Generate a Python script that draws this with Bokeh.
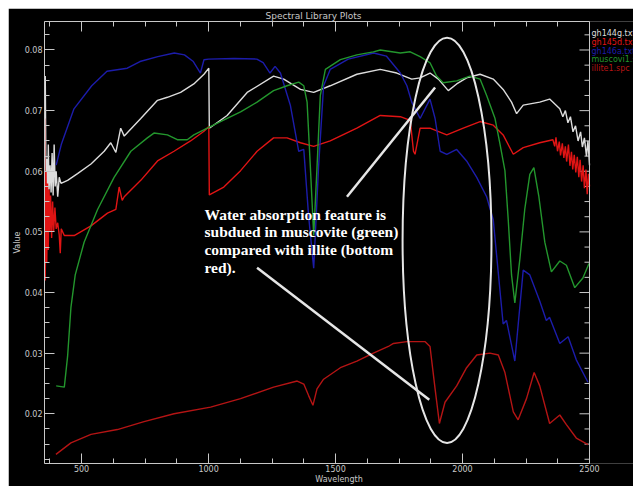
from bokeh.plotting import figure
from bokeh.models import Range1d, LinearAxis, Label, FixedTicker, CustomLabelingPolicy, Span, Spacer
from bokeh.layouts import row, column
from bokeh.core.properties import value
from bokeh.embed import file_html
from bokeh.resources import INLINE

# ---------------- data (wavelength nm, value) ----------------
gh144g_pts = [(357,0.0757),(360,0.058),(363,0.062),(366,0.0556),(369,0.0644),(372,0.057),(376,0.061),
              (380,0.0565),(384,0.063),(388,0.056),(392,0.0644),(396,0.0575),(400,0.060),(406,0.0558),
              (412,0.059),(419,0.058),(445,0.0585),(484,0.0596),(537,0.0612),(589,0.0633),(615,0.0647),
              (635,0.0631),(654,0.0671),(668,0.0658),(733,0.0687),(799,0.0717),(838,0.0722),(890,0.0730),
              (942,0.0744),(982,0.0760),(1001,0.0770),(1003,0.0671),(1073,0.0692),(1152,0.0730),
              (1256,0.0757),(1296,0.0752),(1362,0.0735),(1414,0.0730),(1479,0.0741),(1584,0.0760),
              (1676,0.0768),(1741,0.0762),(1800,0.0752),(1833,0.0754),(1872,0.0762),(1905,0.0752),
              (1944,0.0733),(1977,0.0744),(2016,0.0754),(2069,0.0760),(2121,0.0752),(2160,0.0735),
              (2193,0.0714),(2213,0.0695),(2239,0.0709),(2304,0.0714),(2343,0.0719),(2383,0.0703),
              (2395,0.0690),(2405,0.0700),(2415,0.0680),(2425,0.0690),(2435,0.0665),(2445,0.0675),
              (2455,0.0650),(2465,0.0665),(2472,0.0640),(2480,0.0655),(2488,0.0625),(2494,0.0650),
              (2500,0.0610)]

gh145d_pts = [(354,0.0687),(357,0.042),(360,0.060),(363,0.045),(366,0.058),(369,0.047),(372,0.057),
              (375,0.050),(378,0.056),(382,0.049),(386,0.055),(390,0.050),(395,0.054),(400,0.0505),
              (406,0.0515),(412,0.0495),(416,0.0465),(420,0.0505),(432,0.0494),(471,0.0494),
              (537,0.0510),(602,0.0531),(635,0.0537),(648,0.0574),(660,0.0552),(668,0.0558),
              (733,0.0585),(799,0.0617),(864,0.0633),(929,0.0650),(982,0.0666),(1001,0.0674),
              (1003,0.0561),(1060,0.0574),(1126,0.0601),(1191,0.0633),(1256,0.0655),(1309,0.0655),
              (1362,0.0647),(1414,0.0641),(1479,0.0650),(1584,0.0671),(1676,0.0692),(1755,0.0690),
              (1794,0.0684),(1807,0.0633),(1813,0.0628),(1833,0.0671),(1872,0.0671),(1938,0.0660),
              (2003,0.0671),(2069,0.0682),(2121,0.0676),(2160,0.0660),(2200,0.0628),(2239,0.0639),
              (2304,0.0647),(2356,0.0652),(2363,0.0641),(2368,0.0656),(2374,0.0633),(2381,0.0649),
              (2386,0.0626),(2393,0.0646),(2399,0.0622),(2405,0.0641),(2410,0.0616),(2417,0.0644),
              (2423,0.0609),(2429,0.0632),(2434,0.0603),(2440,0.0627),(2446,0.0598),(2452,0.0624),
              (2458,0.0590),(2463,0.0619),(2469,0.0583),(2475,0.0610),(2480,0.0572),(2486,0.0603),
              (2491,0.0562),(2496,0.0596),(2500,0.0575)]

blue_pts = [(400,0.0610),(420,0.0644),(470,0.0703),(540,0.0741),(600,0.0765),(680,0.0770),(730,0.0781),
            (800,0.0789),(865,0.0795),(905,0.0792),(940,0.0781),(968,0.0762),(982,0.0784),(1000,0.0785),
            (1100,0.0786),(1190,0.0785),(1215,0.0779),(1242,0.0762),(1262,0.0773),(1283,0.0762),
            (1322,0.0709),(1355,0.0633),(1375,0.0636),(1394,0.0526),(1414,0.0440),(1433,0.0606),
            (1453,0.0741),(1479,0.0768),(1550,0.0785),(1650,0.0795),(1700,0.0790),(1755,0.0762),
            (1781,0.0741),(1800,0.0714),(1833,0.0687),(1872,0.0719),(1892,0.0687),(1912,0.0633),
            (1938,0.0628),(1977,0.0636),(2016,0.0617),(2056,0.0590),(2095,0.0558),(2121,0.0520),
            (2160,0.0348),(2173,0.0354),(2206,0.0287),(2239,0.0437),(2265,0.0429),(2304,0.0386),
            (2330,0.0354),(2343,0.0359),(2383,0.0316),(2416,0.0327),(2448,0.0289),(2494,0.0252)]

muscovite_pts = [(400,0.0246),(432,0.0244),(445,0.0295),(458,0.0375),(475,0.0429),(510,0.0483),
                 (563,0.0537),(628,0.0590),(694,0.0633),(759,0.0655),(785,0.0663),(838,0.0660),
                 (877,0.0652),(916,0.0652),(942,0.0660),(995,0.0671),(1047,0.0682),(1126,0.0698),
                 (1191,0.0714),(1256,0.0733),(1309,0.0741),(1355,0.0747),(1375,0.0741),(1388,0.0714),
                 (1401,0.0606),(1414,0.0494),(1427,0.0606),(1440,0.0725),(1460,0.0768),(1519,0.0784),
                 (1584,0.0792),(1649,0.0797),(1676,0.0800),(1755,0.0795),(1794,0.0797),(1833,0.0789),
                 (1872,0.0779),(1898,0.0757),(1924,0.0746),(1977,0.0749),(2029,0.0757),(2069,0.0752),
                 (2095,0.0725),(2128,0.0687),(2148,0.0644),(2167,0.0601),(2180,0.0520),(2193,0.0429),
                 (2206,0.0383),(2226,0.0456),(2245,0.0537),(2265,0.0595),(2281,0.0606),(2300,0.0560),
                 (2324,0.0483),(2350,0.0434),(2383,0.0452),(2409,0.0445),(2442,0.0408),(2474,0.0424),
                 (2498,0.0448)]

illite_pts = [(399,0.0133),(458,0.0152),(537,0.0166),(641,0.0174),(746,0.0187),(864,0.0200),
              (1008,0.0211),(1126,0.0225),(1256,0.0244),(1349,0.0254),(1375,0.0249),(1394,0.0230),
              (1411,0.0214),(1427,0.0241),(1453,0.0257),(1519,0.0276),(1584,0.0287),(1649,0.0300),
              (1708,0.0311),(1728,0.0316),(1781,0.0319),(1853,0.0319),(1872,0.0311),(1892,0.0241),
              (1909,0.0184),(1931,0.0219),(1977,0.0246),(2016,0.0276),(2056,0.0297),(2108,0.0300),
              (2141,0.0297),(2167,0.0268),(2200,0.0203),(2219,0.0190),(2252,0.0225),(2282,0.0268),
              (2304,0.0246),(2343,0.0184),(2383,0.0198),(2409,0.0182),(2448,0.0160),(2494,0.0149)]

series_names = ["gh144g.txt", "gh145d.txt", "gh146a.txt", "muscovi1.spc", "illite1.spc"]
series_pts = [gh144g_pts, gh145d_pts, blue_pts, muscovite_pts, illite_pts]
series_colors = ["#dcdcdc", "#e01414", "#1c1caa", "#23962d", "#b41414"]
legend_values = [0.0827, 0.0813, 0.0798, 0.0784, 0.0769]   # vertical slot of each legend entry

x_lo, x_hi = 354, 2500
y_lo, y_hi = 0.0118, 0.0847
x_major = [500, 1000, 1500, 2000, 2500]
x_minor = [375, 625, 750, 875, 1125, 1250, 1375, 1625, 1750, 1875, 2125, 2250, 2375]
y_major = [0.02, 0.03, 0.04, 0.05, 0.06, 0.07, 0.08]
y_minor = [0.0125, 0.015, 0.0175, 0.0225, 0.025, 0.0275, 0.0325, 0.035, 0.0375, 0.0425, 0.045,
           0.0475, 0.0525, 0.055, 0.0575, 0.0625, 0.065, 0.0675, 0.0725, 0.075, 0.0775, 0.0825]

# annotation
ellipse_center = (1939, 0.0486)
ellipse_size = (350, 0.0668)
pointer_x0 = [1545, 1191]
pointer_y0 = [0.0558, 0.0441]
pointer_x1 = [1892, 1869]
pointer_y1 = [0.0738, 0.0223]
note_lines = ["Water absorption feature is", "subdued in muscovite (green)",
              "compared with illite (bottom", "red)."]

FG = "#c8c8c8"
PAD = 8                  # white strip above and left of the plot, as in the picture
W, H = 625, 478
LEFT = 36                # px left of the frame
EDGE = 581               # px position of the 2500 edge inside the canvas
upp = (x_hi - x_lo) / (EDGE - LEFT)      # data units per pixel along x
x_end = x_lo + (W - LEFT) * upp          # frame continues under the legend strip

p = figure(width=W, height=H, output_backend="svg", toolbar_location=None,
           x_range=Range1d(x_lo, x_end), y_range=Range1d(y_lo, y_hi),
           background_fill_color="black", border_fill_color="black",
           min_border_left=LEFT, min_border_right=0, min_border_top=12, min_border_bottom=0)
p.grid.visible = False
p.outline_line_color = None

p.title.text = "Spectral Library Plots"
p.title.align = "left"
p.title.offset = 221
p.title.text_color = FG
p.title.text_font = "DejaVu Sans"
p.title.text_font_style = "normal"
p.title.text_font_size = "9px"
p.title.standoff = 1

xt = FixedTicker(ticks=x_major, minor_ticks=x_minor)
yt = FixedTicker(ticks=y_major, minor_ticks=y_minor)
no_labels = CustomLabelingPolicy(code="return []")

def style(ax, labels=True):
    ax.axis_line_color = FG
    ax.major_tick_line_color = FG
    ax.minor_tick_line_color = FG
    ax.major_tick_in = 10
    ax.major_tick_out = 0
    ax.minor_tick_in = 5
    ax.minor_tick_out = 0
    ax.major_label_text_color = FG
    ax.major_label_text_font = "DejaVu Sans"
    ax.major_label_text_font_size = "8px" if labels else "0px"
    ax.major_label_standoff = 1 if labels else 0
    ax.axis_label_text_color = FG
    ax.axis_label_text_font = "DejaVu Sans"
    ax.axis_label_text_font_style = "normal"
    ax.axis_label_text_font_size = "8px"
    ax.axis_label_standoff = 0
    if not labels:
        ax.major_label_policy = no_labels

p.xaxis.ticker = xt
p.yaxis.ticker = yt
p.xaxis.bounds = (x_lo, x_hi)
p.xaxis.axis_label = "Wavelength"
p.yaxis.axis_label = "Value"
style(p.xaxis[0])
style(p.yaxis[0])
p.yaxis[0].major_label_standoff = 2
p.yaxis[0].axis_label_standoff = 0

top = LinearAxis(ticker=xt, bounds=(x_lo, x_hi))
style(top, False)
p.add_layout(top, "above")

# right-hand frame edge at x_hi with inward ticks
p.add_layout(Span(location=x_hi, dimension="height", line_color=FG, line_width=1))
p.segment(x0=[x_hi] * len(y_major), y0=y_major, x1=[x_hi - 10 * upp] * len(y_major), y1=y_major,
          line_color=FG, line_width=1)
p.segment(x0=[x_hi] * len(y_minor), y0=y_minor, x1=[x_hi - 5 * upp] * len(y_minor), y1=y_minor,
          line_color=FG, line_width=1)

for pts, col in zip(series_pts, series_colors):
    xs = [a for a, b in pts]
    ys = [b for a, b in pts]
    p.line(xs, ys, line_color=col, line_width=1.4)

p.ellipse(x=[ellipse_center[0]], y=[ellipse_center[1]], width=[ellipse_size[0]],
          height=[ellipse_size[1]], fill_color=None, line_color="#e6e6e6", line_width=2)
p.segment(x0=pointer_x0, y0=pointer_y0, x1=pointer_x1, y1=pointer_y1,
          line_color="#e6e6e6", line_width=2.5)

for i, t in enumerate(note_lines):
    p.add_layout(Label(x=984, y=0.0543 - i * 0.0029, text=t, text_color="white",
                       text_font="Liberation Serif", text_font_style="bold",
                       text_font_size="15.5px", text_baseline="top", text_align="left"))

# legend strip to the right of the 2500 edge
p.text(x=[x_hi + 2 * upp] * len(series_names), y=legend_values, text=series_names,
       text_color=series_colors, text_font=value("DejaVu Sans"), text_font_size=value("8px"),
       text_baseline="middle", text_align="left")

layout = column(Spacer(width=W + PAD, height=PAD),
                row(Spacer(width=PAD, height=H), p, spacing=0), spacing=0)
open("out.html", "w").write(file_html(layout, INLINE))
